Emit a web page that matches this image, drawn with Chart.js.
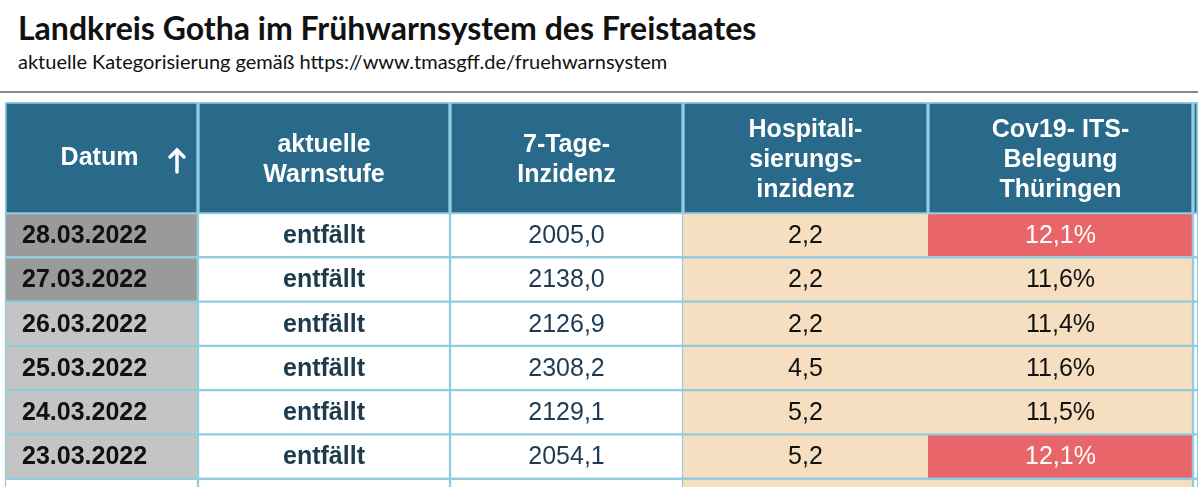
<!DOCTYPE html>
<html><head><meta charset="utf-8">
<script src="https://cdn.jsdelivr.net/npm/chart.js@4/dist/chart.umd.min.js"></script>
<style>
body{margin:0;background:#fff;width:1198px;height:487px;overflow:hidden;font-family:Lato,sans-serif}
h1{position:absolute;left:18px;top:8px;margin:0;font-size:32px;font-weight:700;color:#111}
.sub{position:absolute;left:18px;top:49px;font-size:20px;color:#111}
.rule{position:absolute;left:0;top:91px;width:1198px;height:2px;background:#8a8a8a}
#hwrap{position:absolute;left:0;top:102px;width:1198px;height:112px}
#bwrap{position:absolute;left:0;top:213px;width:1198px;height:274px;overflow:hidden}
#binner{width:1198px;height:310px;position:relative}
</style></head><body>
<h1>Landkreis Gotha im Frühwarnsystem des Freistaates</h1>
<div class="sub">aktuelle Kategorisierung gemäß https://www.tmasgff.de/fruehwarnsystem</div>
<div class="rule"></div>
<div id="hwrap"><canvas id="head"></canvas></div>
<div id="bwrap"><div id="binner"><canvas id="body"></canvas></div></div>
<script>
// Spalten (Grenzen in Tabellenbreite)
const colEdges = [5, 198, 450, 683, 928, 1193, 1198];
const headers = [['Datum'], ['aktuelle', 'Warnstufe'], ['7-Tage-', 'Inzidenz'], ['Hospitali-', 'sierungs-', 'inzidenz'], ['Cov19- ITS-', 'Belegung', 'Thüringen'], ['']];

const dates = ['28.03.2022', '27.03.2022', '26.03.2022', '25.03.2022', '24.03.2022', '23.03.2022', ''];
const warnstufe = ['entfällt', 'entfällt', 'entfällt', 'entfällt', 'entfällt', 'entfällt', ''];
const inzidenz = ['2005,0', '2138,0', '2126,9', '2308,2', '2129,1', '2054,1', ''];
const hospital = ['2,2', '2,2', '2,2', '4,5', '5,2', '5,2', ''];
const its = ['12,1%', '11,6%', '11,4%', '11,6%', '11,5%', '12,1%', ''];
const itsRed = [true, false, false, false, false, true, false];

const BLUE = '#29698a', LINE = '#93cbe0', BEIGE = '#f6dfc0', RED = '#e8656a';
const dateFill = ['#9a9a9a', '#9a9a9a', '#c4c4c4', '#c4c4c4', '#c4c4c4', '#c4c4c4', '#ffffff'];

const rowsB = dates.map((d, i) => 'r' + i);
function span(c, n) { return Array.from({length: n}, () => [colEdges[c], colEdges[c + 1]]); }

const textPlugin = {
  id: 'cellText',
  afterDatasetsDraw(chart) {
    const ctx = chart.ctx;
    ctx.save();
    ctx.textBaseline = 'middle';
    chart.data.datasets.forEach((ds, di) => {
      chart.getDatasetMeta(di).data.forEach((el, ri) => {
        const left = Math.min(el.x, el.base);
        const cx = ds.left ? left + 17 : (el.x + el.base) / 2, cy = el.y;
        ctx.textAlign = ds.left ? 'left' : 'center';
        const t = ds.texts[ri];
        if (!t) return;
        ctx.font = ds.fonts[ri]; ctx.fillStyle = ds.textColors[ri];
        const lines = Array.isArray(t) ? t : [t];
        const lh = 30;
        lines.forEach((l, k) => ctx.fillText(l, cx + (ds.dx || 0), cy + (k - (lines.length - 1) / 2) * lh + (ds.dy || 0)));
        if (ds.arrow) {
          ctx.strokeStyle = '#fff'; ctx.lineWidth = 3.5; ctx.lineCap = 'round';
          ctx.beginPath(); ctx.moveTo(177, cy - 6); ctx.lineTo(177, cy + 14);
          ctx.moveTo(170, cy - 1); ctx.lineTo(177, cy - 8); ctx.lineTo(184, cy - 1); ctx.stroke();
        }
      });
    });
    ctx.restore();
  }
};

function opts() {
  return {
    indexAxis: 'y', responsive: true, maintainAspectRatio: false, animation: false,
    layout: { padding: 0 },
    plugins: { legend: { display: false }, tooltip: { enabled: false } },
    scales: {
      x: { type: 'linear', min: 0, max: 1198, display: false },
      y: { display: false, stacked: true }
    }
  };
}

const HB = 'bold 25px "Liberation Sans"';
new Chart(document.getElementById('head'), {
  type: 'bar',
  data: {
    labels: ['h'],
    datasets: headers.map((h, c) => ({
      data: span(c, 1), backgroundColor: BLUE, borderColor: LINE, borderWidth: 2, borderSkipped: false,
      barPercentage: 1, categoryPercentage: 1, grouped: false,
      texts: [h], fonts: [HB], textColors: ['#fff'], dx: c === 0 ? -2 : 0, dy: c === 0 ? 0 : 2, arrow: c === 0
    }))
  },
  options: opts(), plugins: [textPlugin]
});

const n = dates.length;
const bodyCols = [
  { texts: dates, fill: dateFill, font: 'bold 25px "Liberation Sans"', color: () => '#111', left: true },
  { texts: warnstufe, fill: Array(n).fill('#fff'), font: 'bold 25px "Liberation Sans"', color: () => '#1d3b4c' },
  { texts: inzidenz, fill: Array(n).fill('#fff'), font: '25px "Liberation Sans"', color: () => '#1d3b55' },
  { texts: hospital, fill: Array(n).fill(BEIGE), font: '25px "Liberation Sans"', color: () => '#111', beige: true },
  { texts: its, fill: itsRed.map(r => r ? RED : BEIGE), font: '25px "Liberation Sans"', color: i => itsRed[i] ? '#fff' : '#111', beige: true },
  { texts: Array(n).fill(''), fill: Array(n).fill('#fff'), font: '25px "Liberation Sans"', color: () => '#111' }
];
new Chart(document.getElementById('body'), {
  type: 'bar',
  data: {
    labels: rowsB,
    datasets: bodyCols.map((c, ci) => ({
      data: span(ci, n), backgroundColor: c.fill, borderColor: LINE,
      borderWidth: c.beige ? { top: 1.5, bottom: 1.5, left: 0, right: ci === 4 ? 1.5 : 0 } : 1.5,
      borderSkipped: false, barPercentage: 1, categoryPercentage: 1, grouped: false, left: c.left,
      texts: c.texts, fonts: Array(n).fill(c.font), textColors: c.texts.map((_, i) => c.color(i)), dy: 1
    }))
  },
  options: opts(), plugins: [textPlugin]
});
</script>
</body></html>
